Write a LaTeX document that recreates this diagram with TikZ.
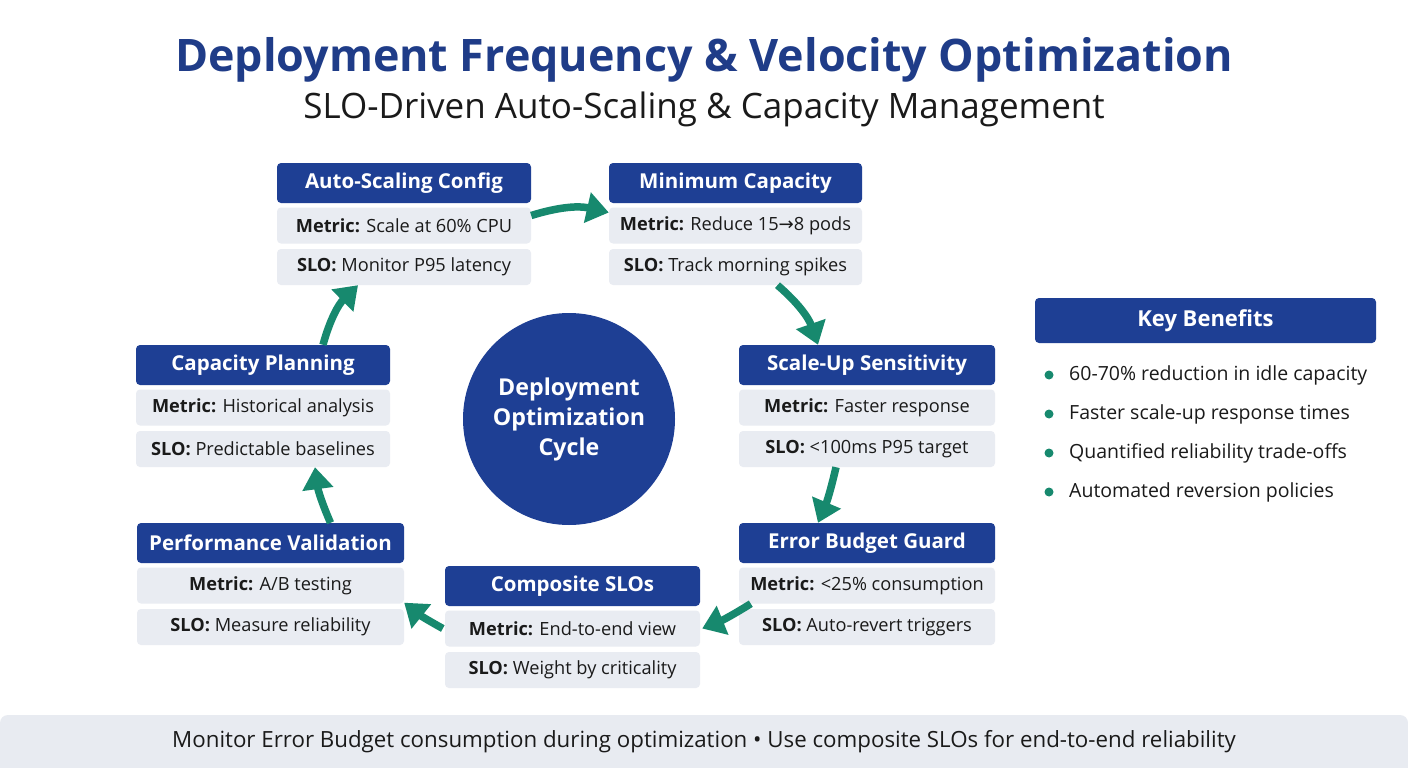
\documentclass[tikz,border=0pt]{standalone}
\usepackage{fontspec}
\setmainfont{Open Sans}
\newfontfamily\symf{DejaVu Sans}
\usetikzlibrary{arrows.meta}
\definecolor{hblue}{HTML}{1E3F94}
\definecolor{tblue}{HTML}{1F3C88}
\definecolor{rowgrey}{HTML}{E9ECF2}
\definecolor{teal}{HTML}{17896E}
\definecolor{barg}{HTML}{E8EBF1}
\definecolor{txt}{HTML}{1A1A1A}
\tikzset{
  hdr/.style={fill=hblue, rounded corners=4pt, text=white, minimum height=40pt, inner sep=0pt,
    font=\fontsize{20.5}{24}\selectfont\bfseries},
  rowbox/.style={fill=rowgrey, rounded corners=4pt, text=txt, minimum height=36pt, inner sep=0pt,
    font=\fontsize{18.2}{22}\selectfont},
  arr/.style={draw=teal, line width=7.5pt, -{Triangle[length=22pt,width=30pt]}},
  bul/.style={circle, fill=teal, minimum size=9pt, inner sep=0pt},
  btxt/.style={anchor=west, text=txt, inner sep=0pt, font=\fontsize{19.5}{23}\selectfont},
}
\newcommand\stagebox[7]{%
  \node[hdr, minimum width=#4pt] (#1h) at (#2, #3+20) {\raisebox{-1.5pt}{#5}};
  \node[rowbox, minimum width=#4pt] (#1m) at (#2, #3+62.5) {\raisebox{-1pt}{\textbf{Metric:} #6}};
  \node[rowbox, minimum width=#4pt] (#1s) at (#2, #3+104) {\raisebox{-1pt}{\textbf{SLO:} #7}};
}
\begin{document}
\begin{tikzpicture}[x=1pt, y=-1pt]
\useasboundingbox (0,0) rectangle (1408,768);
\fill[white] (0,0) rectangle (1408,768);

\node[text=tblue, font=\fontsize{44.8}{50}\selectfont\bfseries] (title) at (704,60) {Deployment Frequency \& Velocity Optimization};
\node[text=txt, font=\fontsize{35}{38}\selectfont] (sub) at (704,109) {SLO-Driven Auto-Scaling \& Capacity Management};

\stagebox{as}{404}{163}{254}{Auto-Scaling Config}{Scale at 60\% CPU}{Monitor P95 latency}
\stagebox{mc}{735.5}{163}{253}{Minimum Capacity}{Reduce 15{\symf →}8 pods}{Track morning spikes}
\stagebox{cp}{263}{345}{254}{Capacity Planning}{Historical analysis}{Predictable baselines}
\stagebox{su}{867}{345}{256}{Scale-Up Sensitivity}{Faster response}{<100ms P95 target}
\stagebox{pv}{270.5}{523}{267}{Performance Validation}{A/B testing}{Measure reliability}
\stagebox{eb}{867}{523}{256}{Error Budget Guard}{<25\% consumption}{Auto-revert triggers}
\stagebox{cs}{572.5}{566}{255}{Composite SLOs}{End-to-end view}{Weight by criticality}

\node[circle, fill=hblue, minimum size=212pt, inner sep=0pt, text=white, align=center,
  font=\fontsize{23.2}{30}\selectfont\bfseries] (cyc) at (569,419) {Deployment\\Optimization\\Cycle};

% arrows
\draw[arr] ([yshift=10pt]asm.east) to[bend left=15] ([yshift=13pt]mcm.west);
\draw[arr] ([xshift=42pt]mcs.south) to[bend left=15] ([xshift=-49pt]suh.north);
\draw[arr] ([xshift=-31pt]sus.south) to[bend left=5] ([xshift=-49pt]ebh.north);
\draw[arr] ([xshift=12pt]ebm.south west) to[bend left=5] ([xshift=2pt]csm.east);
\draw[arr] ([xshift=-2pt]csm.west) to[bend left=5] ([yshift=1pt]pvm.south east);
\draw[arr] ([xshift=60pt]pvh.north) to[bend left=8] ([xshift=52pt]cps.south);
\draw[arr] ([xshift=60pt]cph.north) to[bend left=15] ([xshift=-46pt]ass.south);

% key benefits
\node[hdr, minimum width=341pt, minimum height=45pt, font=\fontsize{22}{26}\selectfont\bfseries] (kb) at (1205.5,320.5) {\raisebox{-1.5pt}{Key Benefits}};
\node[bul] (b1) at (1049,375) {};
\node[btxt] (t1) at (1069,375) {60-70\% reduction in idle capacity};
\node[bul] (b2) at (1049,414) {};
\node[btxt] (t2) at (1069,414) {Faster scale-up response times};
\node[bul] (b3) at (1049,453) {};
\node[btxt] (t3) at (1069,453) {Quantified reliability trade-offs};
\node[bul] (b4) at (1049,492) {};
\node[btxt] (t4) at (1069,492) {Automated reversion policies};

% bottom bar
\fill[barg, rounded corners=8pt] (0,715) rectangle (1408,776);
\node[text=txt, font=\fontsize{22.3}{26}\selectfont] (foot) at (704,742) {Monitor Error Budget consumption during optimization • Use composite SLOs for end-to-end reliability};
\end{tikzpicture}
\end{document}
